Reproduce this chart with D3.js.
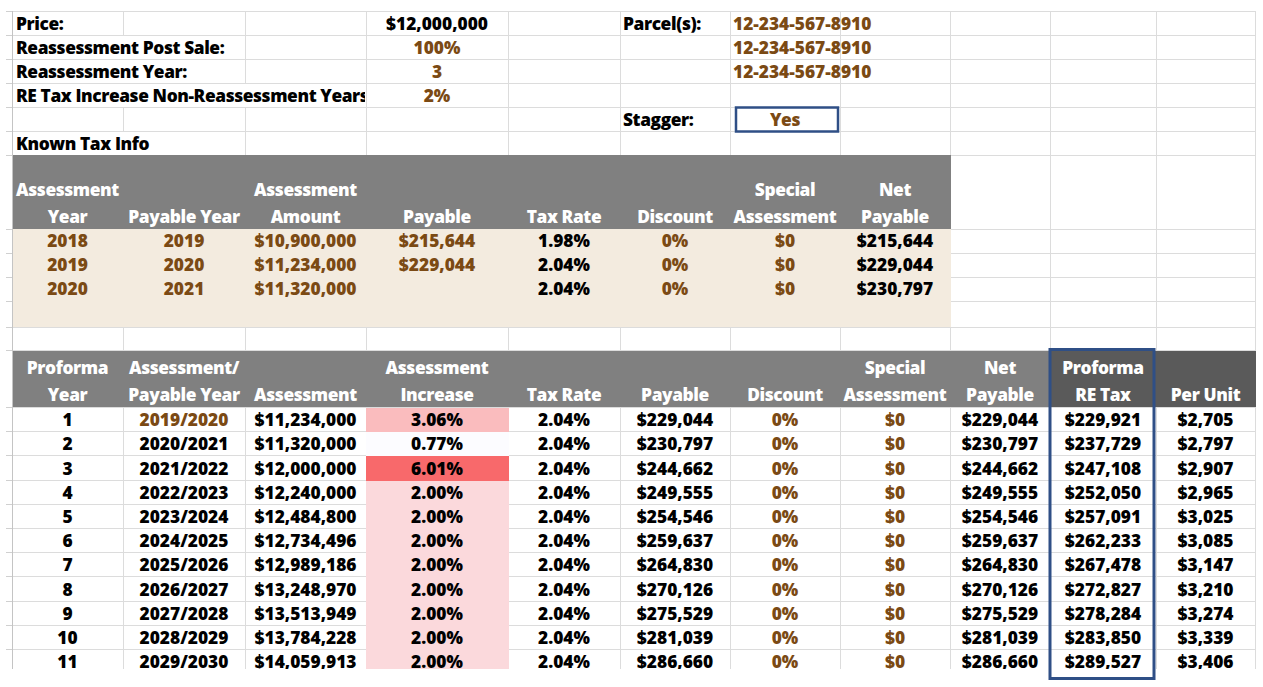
<!DOCTYPE html>
<html><head><meta charset="utf-8">
<script src="https://cdn.jsdelivr.net/npm/d3@7"></script>
<style>
html,body{margin:0;padding:0;background:#fff;overflow:hidden}
svg{display:block}
text{font-family:"Open Sans","Noto Sans",sans-serif;font-weight:800;font-size:17px}
text.lbl{letter-spacing:-0.4px}
</style></head><body>
<svg id="c" width="1263" height="687"></svg>
<script>
// ---------- DATA ----------
const inputLabels = ["Price:", "Reassessment Post Sale:", "Reassessment Year:", "RE Tax Increase Non-Reassessment Years:"];
const inputValues = [12000000, 1.0, 3, 0.02];
const parcelLabel = "Parcel(s):";
const parcels = ["12-234-567-8910", "12-234-567-8910", "12-234-567-8910"];
const staggerLabel = "Stagger:";
const staggerValue = "Yes";
const knownTitle = "Known Tax Info";

const knownHeaders = [["Assessment","Year"],["","Payable Year"],["Assessment","Amount"],["","Payable"],["","Tax Rate"],["","Discount"],["Special","Assessment"],["Net","Payable"]];
const knownAssessYear = [2018, 2019, 2020];
const knownPayYear = [2019, 2020, 2021];
const knownAmount = [10900000, 11234000, 11320000];
const knownPayable = [215644, 229044, null];
const knownTaxRate = [1.98, 2.04, 2.04];
const knownDiscount = [0, 0, 0];
const knownSpecial = [0, 0, 0];
const knownNet = [215644, 229044, 230797];

const proHeaders = [["Proforma","Year"],["Assessment/","Payable Year"],["","Assessment"],["Assessment","Increase"],["","Tax Rate"],["","Payable"],["","Discount"],["Special","Assessment"],["Net","Payable"],["Proforma","RE Tax"],["","Per Unit"]];
const proYear = [1,2,3,4,5,6,7,8,9,10,11];
const proPayYear = ["2019/2020","2020/2021","2021/2022","2022/2023","2023/2024","2024/2025","2025/2026","2026/2027","2027/2028","2028/2029","2029/2030"];
const proAssessment = [11234000,11320000,12000000,12240000,12484800,12734496,12989186,13248970,13513949,13784228,14059913];
const proIncrease = [3.06,0.77,6.01,2.00,2.00,2.00,2.00,2.00,2.00,2.00,2.00];
const proTaxRate = [2.04,2.04,2.04,2.04,2.04,2.04,2.04,2.04,2.04,2.04,2.04];
const proPayable = [229044,230797,244662,249555,254546,259637,264830,270126,275529,281039,286660];
const proDiscount = [0,0,0,0,0,0,0,0,0,0,0];
const proSpecial = [0,0,0,0,0,0,0,0,0,0,0];
const proNet = [229044,230797,244662,249555,254546,259637,264830,270126,275529,281039,286660];
const proRETax = [229921,237729,247108,252050,257091,262233,267478,272827,278284,283850,289527];
const proPerUnit = [2705,2797,2907,2965,3025,3085,3147,3210,3274,3339,3406];

// ---------- LAYOUT ----------
const BROWN = "#7b4a14", GRID = "#dcdcdc", HEAD = "#808080", HEAD_DARK = "#5a5a5a", BEIGE = "#f3ebdf", BLUE = "#2f4f86";
const colEdges = [12,123,245,366,508,620,730,840,950,1050,1156,1255];
const cx = i => (colEdges[i] + colEdges[i+1]) / 2;
const BOTTOM = 669;

const yTop = d3.scaleBand().domain(d3.range(6)).range([11, 155]);
const yKnown = d3.scaleBand().domain(knownAssessYear).range([229, 301]);
const yPro = d3.scaleBand().domain(proYear).range([407, 407 + 11 * 24.2]);

const money = d3.format("$,.0f");
const pct2 = v => d3.format(".2f")(v) + "%";
const pct0 = d3.format(".0%");
const isLbl = s => /[A-Za-z]/.test(s);

const svg = d3.select("#c");

// calibrate font size so a sample number matches the sheet's width
{
  const t = svg.append("text").attr("x", -999).attr("y", -999).style("font-size", "17px").text("$11,234,000");
  const w = t.node().getComputedTextLength(); t.remove();
  let fs = 17 * 102 / w; fs = Math.max(15, Math.min(19, fs));
  svg.append("style").text(`text{font-size:${fs.toFixed(2)}px}`);
}

const defs = svg.append("defs");
defs.append("clipPath").attr("id","clipAll")
  .append("rect").attr("x",0).attr("y",0).attr("width",1263).attr("height",BOTTOM);
defs.append("clipPath").attr("id","clipLbl")
  .append("rect").attr("x",12).attr("y",0).attr("width",366-12-1).attr("height",200);

const g = svg.append("g").attr("clip-path","url(#clipAll)");
const px = v => Math.round(v) + 0.5;

// gridlines
const hLines = yTop.domain().map(d => yTop(d)).concat([155, 229, 253, 277, 301, 327, 350, 407])
  .concat(proYear.map(d => yPro(d) + yPro.bandwidth()));
const grid = g.append("g");
grid.selectAll("line.h").data(hLines).join("line")
  .attr("x1", 12).attr("x2", 1255).attr("y1", d => px(d)).attr("y2", d => px(d))
  .attr("stroke", GRID).attr("stroke-width", 1);
grid.selectAll("line.v").data(colEdges).join("line")
  .attr("x1", d => px(d)).attr("x2", d => px(d)).attr("y1", 11).attr("y2", BOTTOM)
  .attr("stroke", (d,i) => i === 0 ? "#c4c4c4" : GRID).attr("stroke-width", 1);
grid.selectAll("line.t").data(hLines).join("line")
  .attr("x1", 6).attr("x2", 12).attr("y1", d => px(d)).attr("y2", d => px(d))
  .attr("stroke", "#d0d0d0");

function txt(parent, x, y, s, opts = {}) {
  return parent.append("text").attr("x", x).attr("y", y)
    .attr("class", isLbl(s) ? "lbl" : null)
    .attr("dominant-baseline", "central")
    .attr("text-anchor", opts.anchor || "middle")
    .attr("fill", opts.color || "#000").text(s);
}

// ---------- TOP INPUT AREA ----------
const topG = g.append("g");
inputLabels.forEach((lab, i) => {
  const y0 = yTop(i), y1 = y0 + yTop.bandwidth();
  const t = topG.append("text").attr("class", "lbl").attr("x", 16).attr("y", -100).text(lab);
  const w = t.node().getComputedTextLength(); t.remove();
  let end = colEdges.find(e => e > 16 + w + 2) || 366;
  end = Math.min(end, 366);
  topG.append("rect").attr("x", 13).attr("y", Math.round(y0) + 1)
    .attr("width", end - 13).attr("height", Math.round(y1) - Math.round(y0) - 1).attr("fill", "#fff");
  txt(topG, 16, (y0 + y1) / 2, lab, {anchor: "start"}).attr("clip-path", "url(#clipLbl)");
});
const inputFmt = [money, pct0, d3.format("d"), pct0];
inputValues.forEach((v, i) => {
  txt(topG, cx(3), yTop(i) + yTop.bandwidth()/2, inputFmt[i](v), {color: i === 0 ? "#000" : BROWN});
});
txt(topG, 623, yTop(0) + yTop.bandwidth()/2, parcelLabel, {anchor: "start"});
parcels.forEach((p, i) => txt(topG, 733, yTop(i) + yTop.bandwidth()/2, p, {anchor: "start", color: BROWN}));
txt(topG, 623, yTop(4) + yTop.bandwidth()/2, staggerLabel, {anchor: "start"});
txt(topG, 785, yTop(4) + yTop.bandwidth()/2, staggerValue, {color: BROWN});
{
  const y0 = yTop(5), y1 = y0 + yTop.bandwidth();
  topG.append("rect").attr("x", 13).attr("y", Math.round(y0) + 1).attr("width", 245 - 13)
    .attr("height", Math.round(y1) - Math.round(y0) - 1).attr("fill", "#fff");
  txt(topG, 16, (y0 + y1) / 2, knownTitle, {anchor: "start"});
}

// ---------- KNOWN TAX TABLE ----------
const kt = g.append("g");
kt.append("rect").attr("x", 13).attr("y", 155).attr("width", 950 - 13 + 1).attr("height", 229 - 155).attr("fill", HEAD);
kt.append("rect").attr("x", 13).attr("y", 229).attr("width", 950 - 13 + 1).attr("height", 327 - 229).attr("fill", BEIGE);
knownHeaders.forEach((h, i) => {
  if (h[0]) txt(kt, cx(i), 189, h[0], {color: "#fff"});
  txt(kt, cx(i), 216, h[1], {color: "#fff"});
});
const knownCols = [
  {vals: knownAssessYear, f: d3.format("d"), c: BROWN},
  {vals: knownPayYear, f: d3.format("d"), c: BROWN},
  {vals: knownAmount, f: money, c: BROWN},
  {vals: knownPayable, f: money, c: BROWN},
  {vals: knownTaxRate, f: pct2, c: "#000"},
  {vals: knownDiscount, f: pct0, c: BROWN},
  {vals: knownSpecial, f: money, c: BROWN},
  {vals: knownNet, f: money, c: "#000"}
];
knownCols.forEach((col, ci) => {
  kt.selectAll(null).data(col.vals.map((v, ri) => ({v, ri})).filter(d => d.v !== null)).join("text")
    .attr("x", cx(ci)).attr("y", d => yKnown(knownAssessYear[d.ri]) + yKnown.bandwidth()/2 - 1)
    .attr("dominant-baseline", "central").attr("text-anchor", "middle")
    .attr("fill", col.c).text(d => col.f(d.v));
});

// ---------- PROFORMA TABLE ----------
const pt = g.append("g");
pt.append("rect").attr("x", 13).attr("y", 351).attr("width", 1050 - 13).attr("height", 407 - 351).attr("fill", HEAD);
pt.append("rect").attr("x", 1050).attr("y", 351).attr("width", 1256 - 1050).attr("height", 407 - 351).attr("fill", HEAD_DARK);
proHeaders.forEach((h, i) => {
  if (h[0]) txt(pt, cx(i), 367, h[0], {color: "#fff"});
  txt(pt, cx(i), 394, h[1], {color: "#fff"});
});
const heat = d3.scaleLinear().domain([d3.min(proIncrease), d3.max(proIncrease)]).range(["#fcfcff", "#f8696b"]);
pt.selectAll("rect.heat").data(proIncrease).join("rect")
  .attr("x", 366).attr("width", 508 - 366 + 1)
  .attr("y", (d, i) => Math.round(yPro(proYear[i])) + 1)
  .attr("height", (d, i) => Math.round(yPro(proYear[i]) + yPro.bandwidth()) - Math.round(yPro(proYear[i])))
  .attr("fill", d => heat(d));
const proCols = [
  {vals: proYear, f: d3.format("d"), c: () => "#000"},
  {vals: proPayYear, f: d => d, c: i => i === 0 ? BROWN : "#000"},
  {vals: proAssessment, f: money, c: () => "#000"},
  {vals: proIncrease, f: pct2, c: () => "#000"},
  {vals: proTaxRate, f: pct2, c: () => "#000"},
  {vals: proPayable, f: money, c: () => "#000"},
  {vals: proDiscount, f: pct0, c: () => BROWN},
  {vals: proSpecial, f: money, c: () => BROWN},
  {vals: proNet, f: money, c: () => "#000"},
  {vals: proRETax, f: money, c: () => "#000"},
  {vals: proPerUnit, f: money, c: () => "#000"}
];
proCols.forEach((col, ci) => {
  pt.selectAll(null).data(col.vals.map((v, ri) => ({v, ri}))).join("text")
    .attr("x", cx(ci)).attr("y", d => yPro(proYear[d.ri]) + yPro.bandwidth()/2)
    .attr("dominant-baseline", "central").attr("text-anchor", "middle")
    .attr("fill", d => col.c(d.ri)).text(d => col.f(d.v));
});

// ---------- BLUE BOXES ----------
svg.append("rect").attr("x", 736).attr("y", 107.5).attr("width", 102).attr("height", 24)
  .attr("fill", "none").attr("stroke", BLUE).attr("stroke-width", 2.5);
svg.append("rect").attr("x", 1050).attr("y", 349.5).attr("width", 104).attr("height", 329)
  .attr("fill", "none").attr("stroke", BLUE).attr("stroke-width", 3);
</script>
</body></html>
